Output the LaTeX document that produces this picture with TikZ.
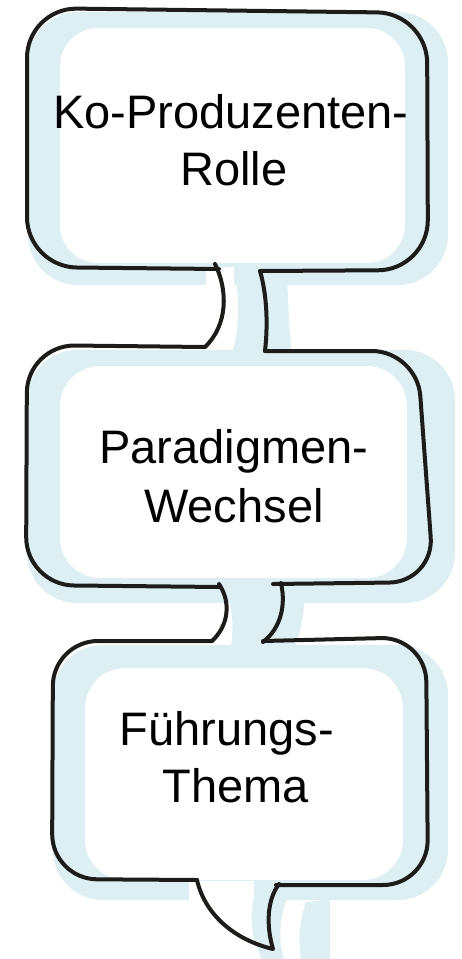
\documentclass[tikz,border=0pt]{standalone}
\usepackage{fontspec}
\setmainfont{Liberation Sans}
\definecolor{shadowblue}{RGB}{221,239,242}
\definecolor{ink}{RGB}{28,28,26}
\begin{document}
\begin{tikzpicture}[x=1pt,y=-1pt, line cap=round, line join=round,
  outline/.style={draw=ink, line width=4pt},
  txt/.style={font=\fontsize{47}{56}\selectfont, anchor=base, inner sep=0pt, text=black}]
\useasboundingbox (0,0) rectangle (462,959);
% shadows box 1
\fill[shadowblue, even odd rule] [rounded corners=50pt] (28,12) rectangle (448,285) [rounded corners=38pt] (60,28) rectangle (405,263);
\fill[white] (206,267) rectangle (234,292);
\fill[shadowblue] (234,270) .. controls (240,300) and (240,330) .. (231,356) -- (292,356) .. controls (289,330) and (288,300) .. (287,270) -- cycle;
% shadows box 2
\fill[shadowblue, even odd rule] [rounded corners=50pt] (27,350) rectangle (455,603) [rounded corners=40pt] (60,366) rectangle (407,578);
\fill[shadowblue] (226,590) .. controls (234,612) and (234,635) .. (229,655) -- (292,655) .. controls (300,635) and (305,612) .. (305,590) -- cycle;
% shadows box 3
\fill[shadowblue, even odd rule] [rounded corners=50pt] (53,645) rectangle (448,900) [rounded corners=40pt] (85,668) rectangle (403,880);
\fill[white] (189,881) rectangle (254,902);
\fill[shadowblue] (256,889) .. controls (249,912) and (250,938) .. (262,959) -- (284,959) .. controls (277,938) and (280,912) .. (291,889) -- cycle;
\fill[shadowblue] (306,902) .. controls (299,922) and (298,940) .. (301,959) -- (330,959) -- (330,899) -- cycle;
% outlines box 1
\draw[outline, rounded corners=50pt] (219,269) -- (27,267) -- (27,8) -- (427,13) -- (428,270) -- (260,271);
\draw[outline] (215,264) .. controls (228,290) and (228,325) .. (205,347);
\draw[outline] (260,271) .. controls (267,295) and (268,325) .. (265,351);
% outlines box 2
\draw[outline, rounded corners=48pt] (205,347) -- (27,345) -- (26,585) -- (220,587);
\draw[outline, rounded corners=45pt] (265,351) -- (417,351) -- (434,582) -- (273,584);
\draw[outline] (219,584) .. controls (231,602) and (229,625) .. (212,641);
\draw[outline] (281,583) .. controls (286,605) and (281,628) .. (263,642);
% outlines box 3
\draw[outline, rounded corners=45pt] (212,641) -- (53,641) -- (52,879) -- (197,880);
\draw[outline, rounded corners=45pt] (263,641) -- (426,637) -- (428,885) -- (276,885);
\draw[outline] (197,880) .. controls (205,915) and (235,940) .. (273,949) .. controls (266,925) and (267,900) .. (279,884);
% texts
\node[txt] (t1a) at (231,128) {Ko-Produzenten-};
\node[txt] (t1b) at (234,185) {Rolle};
\node[txt] (t2a) at (234,463) {Paradigmen-};
\node[txt] (t2b) at (234,522) {Wechsel};
\node[txt] (t3a) at (227,745) {Führungs-};
\node[txt] (t3b) at (236,802) {Thema};
\end{tikzpicture}
\end{document}
